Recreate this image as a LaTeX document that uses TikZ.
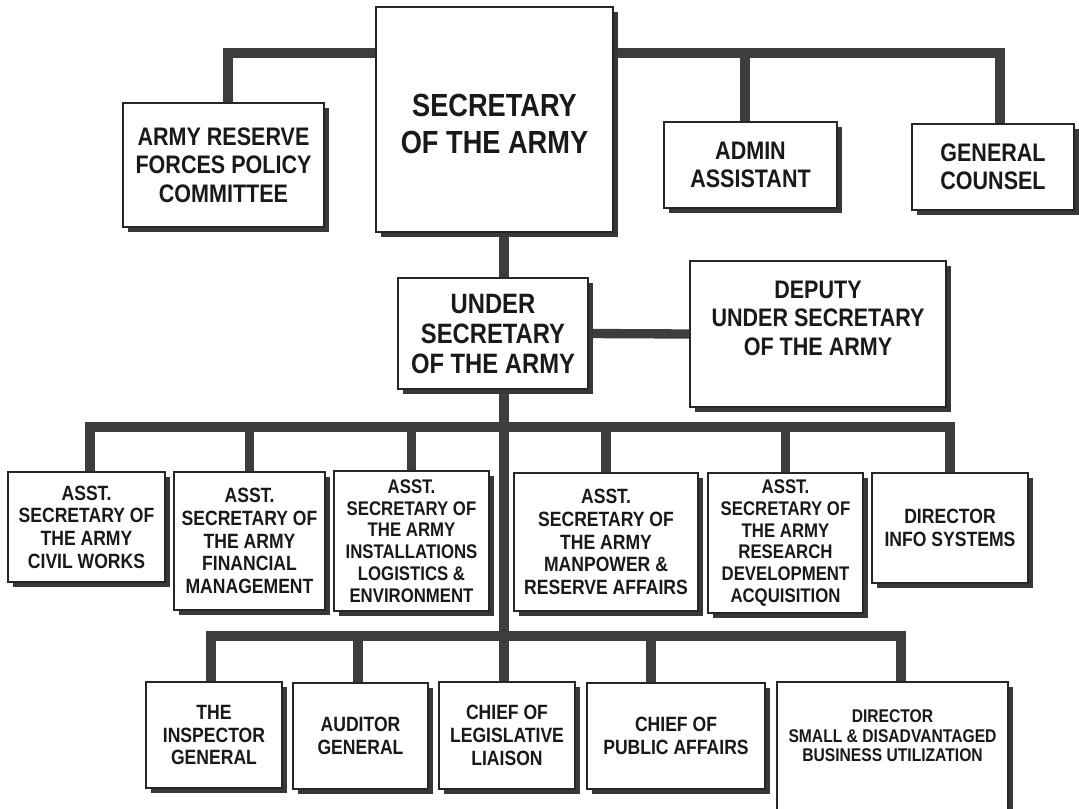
\documentclass[tikz,border=0pt]{standalone}
\usepackage{fontspec}
\setmainfont{Liberation Sans}[FakeStretch=0.85]
\usetikzlibrary{calc,shadows}
\tikzset{
  wh/.style 2 args={minimum width=#1*0.75pt, minimum height=#2*0.75pt},
  box/.style={draw=black!85, line width=1.3pt, fill=white, inner sep=0pt,
    align=center, text=black!90,
    drop shadow={shadow xshift=4pt, shadow yshift=-4pt, fill=black!78, opacity=1}},
  lbl/.style={inner sep=0pt, align=center, text=black!90},
  conn/.style={draw=black!76, line width=7pt},
  fA/.style={font=\fontsize{24}{27.7}\selectfont\bfseries},
  fB/.style={font=\fontsize{21}{22.5}\selectfont\bfseries},
  fC/.style={font=\fontsize{19}{21.4}\selectfont\bfseries},
  fD/.style={font=\fontsize{15.5}{17}\selectfont\bfseries},
  fE/.style={font=\fontsize{14.8}{16.3}\selectfont\bfseries},
  fF/.style={font=\fontsize{13.8}{14.7}\selectfont\bfseries},
}
\begin{document}
\begin{tikzpicture}[x=0.75pt,y=-0.75pt]
\useasboundingbox[fill=white] (0,0) rectangle (1079,808);
% coordinates for bars
\coordinate (topbar) at (0,53);
\coordinate (abar) at (0,427);
\coordinate (bbar) at (0,636);
\coordinate (spine) at (504,0);
% nodes (placed first for connector anchors)
\path
  (494.5,119.5) node[wh={237}{225}] (sec) {}
  (223.5,165) node[wh={201}{124}] (arf) {}
  (750.5,165) node[wh={173}{86}] (admin) {}
  (993,167) node[wh={162}{86}] (gc) {}
  (493,333.5) node[wh={190}{111}] (usec) {}
  (818,334) node[wh={256}{146}] (dep) {}
  (86.5,527) node[wh={157}{110}] (a1) {}
  (249.5,541) node[wh={151}{138}] (a2) {}
  (411.5,541) node[wh={155}{140}] (a3) {}
  (606,542) node[wh={184}{138}] (a4) {}
  (785.5,543) node[wh={155}{140}] (a5) {}
  (950,528) node[wh={156}{110}] (a6) {}
  (214,735) node[wh={136}{106}] (b1) {}
  (360.5,736) node[wh={135}{106}] (b2) {}
  (507,735.5) node[wh={136}{107}] (b3) {}
  (676,736) node[wh={178}{106}] (b4) {}
  (892.5,748) node[wh={231}{132}] (b5) {};
% connectors
\draw[conn] ($(arf.north)+(4.5,0)$) |- (sec.west |- topbar);
\draw[conn] (sec.east |- topbar) -| ($(gc.north)+(7,0)$);
\draw[conn] ($(admin.north)+(-5.5,0)$) -- ($(admin.north |- topbar)+(-5.5,0)$);
\draw[conn] (spine |- sec.south) -- (spine |- usec.north);
\draw[conn] (spine |- usec.south) -- (spine |- bbar);
\draw[conn] (usec.east) -- (dep.west);
\draw[conn] ($(a1.north)+(3.5,0)$) |- (a6.north |- abar) -- (a6.north);
\draw[conn] (a2.north) -- (a2.north |- abar);
\draw[conn] (a3.north) -- (a3.north |- abar);
\draw[conn] (a4.north) -- (a4.north |- abar);
\draw[conn] (a5.north) -- (a5.north |- abar);
\draw[conn] ($(b1.north)+(-3,0)$) |- ($(b5.north |- bbar)+(8.5,0)$) -- ($(b5.north)+(8.5,0)$);
\draw[conn] ($(b2.north)+(-2.5,0)$) -- ($(b2.north |- bbar)+(-2.5,0)$);
\draw[conn] (spine |- bbar) -- (spine |- b3.north);
\draw[conn] ($(b4.north)+(-25,0)$) -- ($(b4.north |- bbar)+(-25,0)$);
% boxes
\node[box,wh={237}{225}] at (sec) {};
\node[lbl,fA] (sect) at (494.5,124) {SECRETARY\\OF THE ARMY};
\node[box,fC,wh={201}{124}] at (arf) {ARMY RESERVE\\FORCES POLICY\\COMMITTEE};
\node[box,fC,wh={173}{86}] at (admin) {ADMIN\\ASSISTANT};
\node[box,fC,wh={162}{86}] at (gc) {GENERAL\\COUNSEL};
\node[box,fB,wh={190}{111}] at (usec) {UNDER\\SECRETARY\\OF THE ARMY};
\node[box,wh={256}{146}] at (dep) {};
\node[lbl,fC] (dept) at (818,318) {DEPUTY\\UNDER SECRETARY\\OF THE ARMY};
\node[box,fD,wh={157}{110}] at (a1) {ASST.\\SECRETARY OF\\THE ARMY\\CIVIL WORKS};
\node[box,fD,wh={151}{138}] at (a2) {ASST.\\SECRETARY OF\\THE ARMY\\FINANCIAL\\MANAGEMENT};
\node[box,fE,wh={155}{140}] at (a3) {ASST.\\SECRETARY OF\\THE ARMY\\INSTALLATIONS\\LOGISTICS \&\\ENVIRONMENT};
\node[box,fD,wh={184}{138}] at (a4) {ASST.\\SECRETARY OF\\THE ARMY\\MANPOWER \&\\RESERVE AFFAIRS};
\node[box,fE,wh={155}{140}] at (a5) {ASST.\\SECRETARY OF\\THE ARMY\\RESEARCH\\DEVELOPMENT\\ACQUISITION};
\node[box,fD,wh={156}{110}] at (a6) {DIRECTOR\\INFO SYSTEMS};
\node[box,fD,wh={136}{106}] at (b1) {THE\\INSPECTOR\\GENERAL};
\node[box,fD,wh={135}{106}] at (b2) {AUDITOR\\GENERAL};
\node[box,fD,wh={136}{107}] at (b3) {CHIEF OF\\LEGISLATIVE\\LIAISON};
\node[box,fD,wh={178}{106}] at (b4) {CHIEF OF\\PUBLIC AFFAIRS};
\node[box,wh={231}{132}] at (b5) {};
\node[lbl,fF] (b5t) at (892.5,736) {DIRECTOR\\SMALL \& DISADVANTAGED\\BUSINESS UTILIZATION};
\end{tikzpicture}
\end{document}
